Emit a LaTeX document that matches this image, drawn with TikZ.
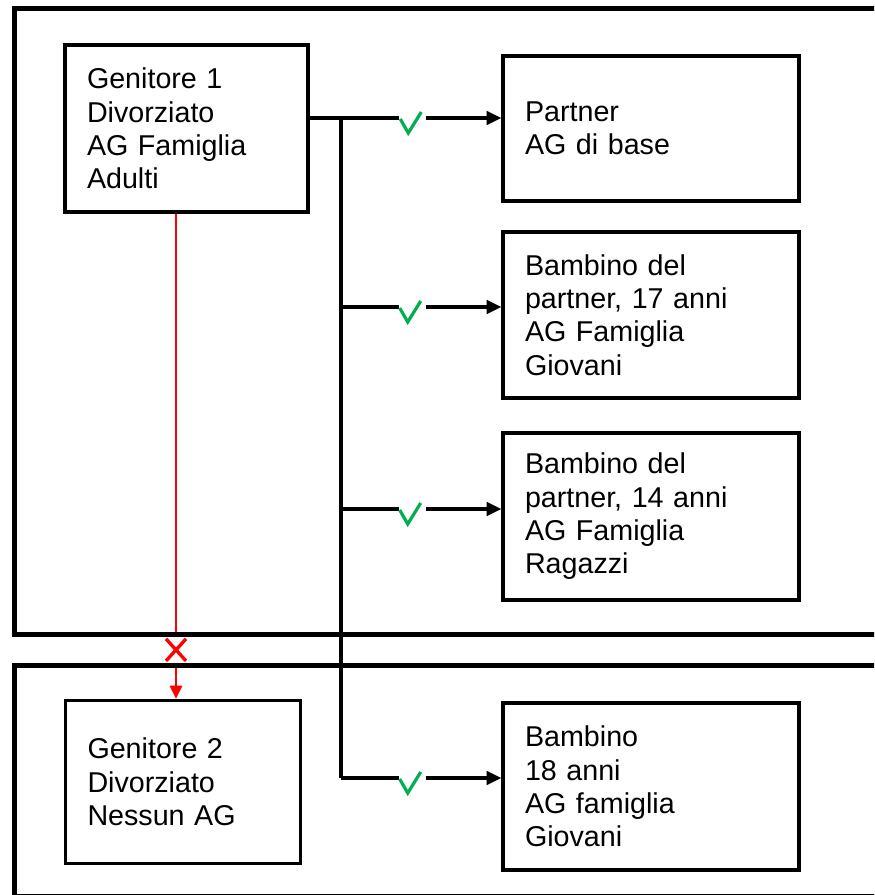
\documentclass[tikz,border=0pt]{standalone}
\usepackage{fontspec}
\setmainfont{Liberation Sans}
\usetikzlibrary{arrows.meta}
\definecolor{okgreen}{RGB}{0,176,80}
\definecolor{nored}{RGB}{255,0,0}

\begin{document}
\begin{tikzpicture}[x=0.75pt,y=-0.75pt,
  frame/.style={draw=black, line width=3.75pt},
  card/.style={draw=black, line width=2.4pt, align=left, inner xsep=16.5pt,
    inner ysep=0pt, font=\fontsize{21.5pt}{25pt}\selectfont},
  link/.style={draw=black, line width=2.5pt, line join=miter,
    -{Triangle[length=11pt,width=10pt]}},
  trunk/.style={draw=black, line width=2.5pt},
  nolink/.style={draw=nored, line width=2.2pt,
    -{Triangle[length=10pt,width=9pt]}},
  ckgap/.style={fill=white, inner sep=0pt, minimum width=20.25pt, minimum height=6pt},
  xgap/.style={fill=white, inner sep=0pt, minimum width=18pt, minimum height=21.75pt},
  tick/.style={draw=okgreen, line width=2.4pt},
  cross/.style={draw=nored, line width=2.5pt}]

\useasboundingbox (0,0) rectangle (874,895);
\clip (0,0) rectangle (874,895);

% people
\node[card, minimum width=182.25pt, minimum height=125.25pt, text width=149.25pt]
  (g1) at (186.5,128.5) {Genitore 1\\Divorziato\\AG Famiglia\\Adulti};
\node[card, minimum width=222pt, minimum height=108.75pt, text width=189pt]
  (p) at (651,128.5) {Partner\\AG di base};
\node[card, minimum width=222pt, minimum height=124.5pt, text width=189pt]
  (b17) at (651,315) {Bambino del\\partner, 17 anni\\AG Famiglia\\Giovani};
\node[card, minimum width=222pt, minimum height=125.25pt, text width=189pt]
  (b14) at (651,516.5) {Bambino del\\partner, 14 anni\\AG Famiglia\\Ragazzi};
\node[card, minimum width=222pt, minimum height=125.25pt, text width=189pt]
  (b18) at (651,786.5) {Bambino\\18 anni\\AG famiglia\\Giovani};
\node[card, minimum width=176.25pt, minimum height=122.25pt, text width=143.25pt]
  (g2) at (183,782) {Genitore 2\\Divorziato\\Nessun AG};

% branching points of the family line
\coordinate (j)  at (341,118);
\coordinate (r2) at (341,307);
\coordinate (r3) at (341,509);
\coordinate (r4) at (341,778);
\coordinate (rx) at (176,0);

% covered relations
\draw[link] (g1.east |- j) -- node[ckgap, pos=0.538] (ck1) {} (p.west |- j);
\draw[trunk] (j) -- (r4);
\draw[link] (r2) -- node[ckgap, pos=0.444] (ck2) {} (b17.west |- r2);
\draw[link] (r3) -- node[ckgap, pos=0.444] (ck3) {} (b14.west |- r3);
\draw[link] (r4) -- node[ckgap, pos=0.444] (ck4) {} (b18.west |- r4);
\foreach \c in {ck1,ck2,ck3,ck4}
  \draw[tick] ([shift={(-12.5,1)}]\c.center) -- ++(8,14) -- ++(13,-21);

% excluded relation
\draw[nolink] (g1.south -| rx) -- node[xgap, pos=0.899] (x1) {} (g2.north -| rx);
\draw[cross] ([shift={(-10,-11)}]x1.center) -- ++(20,22)
             ([shift={(10,-11)}]x1.center) -- ++(-20,22);

% household frames
\draw[frame] (14,8.5) rectangle (900,634.5);
\draw[frame] (14,665.5) rectangle (900,896.5);
\end{tikzpicture}
\end{document}
